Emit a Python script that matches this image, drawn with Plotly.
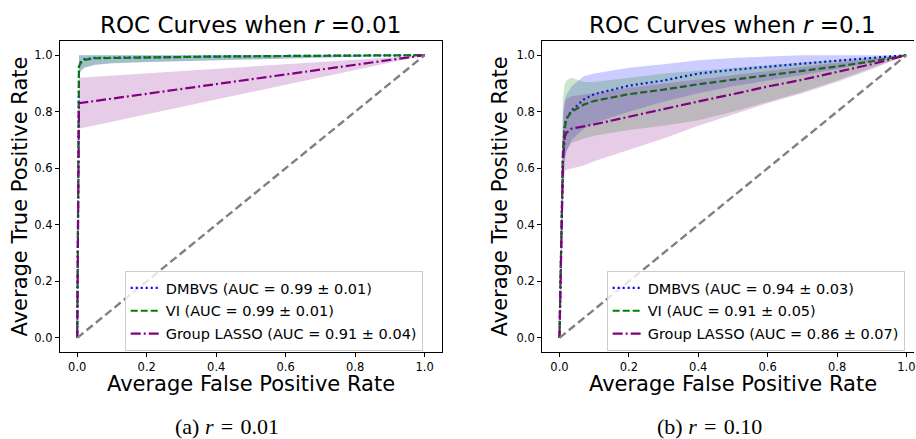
import plotly.graph_objects as go

W, H = 916, 439

# ---------------- data: panel (a) r = 0.01 ----------------
fpr_a = [0, 0.005, 0.01, 0.02, 0.05, 0.1, 0.2, 0.4, 0.6, 0.8, 1.0]
dmbvs_a = [0, 0.965, 0.975, 0.985, 0.99, 0.991, 0.993, 0.995, 0.997, 0.999, 1.0]
dmbvs_a_lo = [0, 0.935, 0.945, 0.955, 0.966, 0.972, 0.977, 0.982, 0.988, 0.994, 1.0]
dmbvs_a_hi = [0, 1.0, 1.0, 1.0, 1.0, 1.0, 1.0, 1.0, 1.0, 1.0, 1.0]
vi_a = [0, 0.96, 0.972, 0.983, 0.989, 0.99, 0.992, 0.995, 0.997, 0.999, 1.0]
vi_a_lo = [0, 0.93, 0.942, 0.955, 0.965, 0.97, 0.976, 0.982, 0.988, 0.994, 1.0]
vi_a_hi = [0, 1.0, 1.0, 1.0, 1.0, 1.0, 1.0, 1.0, 1.0, 1.0, 1.0]
fpr_lasso_a = [0, 0.005, 1.0]
lasso_a = [0, 0.83, 1.0]
lasso_a_lo = [0, 0.74, 1.0]
lasso_a_hi = [0, 0.92, 1.0]

# ---------------- data: panel (b) r = 0.1 ----------------
fpr_b = [0, 0.01, 0.015, 0.02, 0.035, 0.07, 0.1, 0.2, 0.3, 0.4, 0.5, 0.6, 0.7, 0.8, 0.9, 1.0]
dmbvs_b = [0, 0.65, 0.75, 0.775, 0.805, 0.843, 0.862, 0.892, 0.91, 0.935, 0.948, 0.96, 0.97, 0.98, 0.99, 1.0]
dmbvs_b_hi = [0, 0.80, 0.84, 0.86, 0.89, 0.925, 0.935, 0.955, 0.968, 0.982, 0.99, 0.996, 1.0, 1.0, 1.0, 1.0]
dmbvs_b_lo = [0, 0.50, 0.63, 0.66, 0.70, 0.74, 0.76, 0.80, 0.835, 0.865, 0.89, 0.91, 0.93, 0.95, 0.975, 1.0]
vi_b = [0, 0.66, 0.74, 0.775, 0.80, 0.825, 0.838, 0.862, 0.878, 0.897, 0.913, 0.928, 0.944, 0.96, 0.978, 1.0]
vi_b_hi = [0, 0.85, 0.895, 0.91, 0.92, 0.905, 0.905, 0.92, 0.935, 0.945, 0.955, 0.965, 0.975, 0.985, 0.993, 1.0]
vi_b_lo = [0, 0.50, 0.62, 0.66, 0.69, 0.705, 0.715, 0.735, 0.75, 0.77, 0.80, 0.835, 0.87, 0.91, 0.955, 1.0]
lasso_b = [0, 0.62, 0.71, 0.725, 0.74, 0.748, 0.755, 0.782, 0.81, 0.836, 0.862, 0.889, 0.913, 0.94, 0.968, 1.0]
lasso_b_hi = [0, 0.75, 0.83, 0.845, 0.855, 0.86, 0.865, 0.885, 0.90, 0.915, 0.93, 0.945, 0.96, 0.975, 0.988, 1.0]
lasso_b_lo = [0, 0.45, 0.59, 0.595, 0.60, 0.61, 0.625, 0.665, 0.705, 0.75, 0.79, 0.83, 0.865, 0.905, 0.95, 1.0]

diag = [0, 1]

labels_a = ["DMBVS (AUC = 0.99 ± 0.01)", "VI (AUC = 0.99 ± 0.01)", "Group LASSO (AUC = 0.91 ± 0.04)"]
labels_b = ["DMBVS (AUC = 0.94 ± 0.03)", "VI (AUC = 0.91 ± 0.05)", "Group LASSO (AUC = 0.86 ± 0.07)"]
titles = ["ROC Curves when <i>r</i> =0.01", "ROC Curves when <i>r</i> =0.1"]
captions = ["(a) <i>r</i>&#8196;=&#8196;0.01", "(b) <i>r</i>&#8196;=&#8196;0.10"]
tick_vals = [0.0, 0.2, 0.4, 0.6, 0.8, 1.0]

line_colors = ["blue", "green", "purple"]
fill_colors = ["rgba(0,0,255,0.2)", "rgba(0,128,0,0.2)", "rgba(128,0,128,0.2)"]
dashes = ["2px,3px", "7px,3px", "10px,3px,2px,3px"]

FONT = "DejaVu Sans"
fig = go.Figure()


def add_panel(xa, ya, legend, series, labels):
    for i, (x, m, lo, hi) in enumerate(series):
        fig.add_trace(go.Scatter(
            x=list(x) + list(x)[::-1], y=list(hi) + list(lo)[::-1],
            xaxis=xa, yaxis=ya, mode="lines", fill="toself",
            fillcolor=fill_colors[i], line=dict(width=0),
            hoverinfo="skip", showlegend=False))
        fig.add_trace(go.Scatter(
            x=x, y=m, xaxis=xa, yaxis=ya, mode="lines", name=labels[i],
            legend=legend, legendgroup=legend + str(i),
            line=dict(color=line_colors[i], width=2.2, dash=dashes[i])))
    fig.add_trace(go.Scatter(
        x=diag, y=diag, xaxis=xa, yaxis=ya, mode="lines", showlegend=False,
        line=dict(color="gray", width=2.4, dash="8px,4px")))


add_panel("x", "y", "legend",
          [(fpr_a, dmbvs_a, dmbvs_a_lo, dmbvs_a_hi),
           (fpr_a, vi_a, vi_a_lo, vi_a_hi),
           (fpr_lasso_a, lasso_a, lasso_a_lo, lasso_a_hi)], labels_a)
add_panel("x2", "y2", "legend2",
          [(fpr_b, dmbvs_b, dmbvs_b_lo, dmbvs_b_hi),
           (fpr_b, vi_b, vi_b_lo, vi_b_hi),
           (fpr_b, lasso_b, lasso_b_lo, lasso_b_hi)], labels_b)

ax_common = dict(showgrid=False, zeroline=False, showline=True, linecolor="black",
                 linewidth=1, ticks="outside", ticklen=4, tickcolor="black",
                 tickvals=tick_vals, tickformat=".1f", ticklabeloverflow="allow",
                 tickfont=dict(family=FONT, size=11.5, color="black"))

ydom = [1 - 352 / H, 1 - 41 / H]
leg_common = dict(xanchor="left", yanchor="top", bgcolor="rgba(255,255,255,0.8)",
                  bordercolor="#cccccc", borderwidth=1,
                  font=dict(family=FONT, size=14.5, color="black"), tracegroupgap=1)
fig.update_layout(
    width=W, height=H, margin=dict(l=0, r=0, t=0, b=0),
    plot_bgcolor="white", paper_bgcolor="white",
    xaxis=dict(domain=[60 / W, 443 / W], range=[-0.05, 1.05], anchor="y", mirror=True, **ax_common),
    yaxis=dict(domain=ydom, range=[-0.05, 1.05], anchor="x", mirror=True, **ax_common),
    xaxis2=dict(domain=[543.3 / W, 1.0], range=[-0.05, 1.0218], anchor="y2", mirror=True, **ax_common),
    yaxis2=dict(domain=ydom, range=[-0.05, 1.05], anchor="x2", mirror=False, **ax_common),
    legend=dict(x=125 / W, y=1 - 271 / H, **leg_common),
    legend2=dict(x=608 / W, y=1 - 271 / H, **leg_common),
)

ann = []
for cx, t in zip([251.0, 734.0], titles):
    ann.append(dict(text=t, x=cx / W, y=1 - 25 / H, xref="paper", yref="paper",
                    xanchor="center", yanchor="middle", showarrow=False,
                    font=dict(family=FONT, size=23, color="black")))
for cx in [251.5, 734.5]:
    ann.append(dict(text="Average False Positive Rate", x=cx / W, y=1 - 384 / H,
                    xref="paper", yref="paper", xanchor="center", yanchor="middle",
                    showarrow=False, font=dict(family=FONT, size=21, color="black")))
for cx in [21, 502]:
    ann.append(dict(text="Average True Positive Rate", x=cx / W, y=1 - 196.5 / H,
                    xref="paper", yref="paper", xanchor="center", yanchor="middle",
                    textangle=-90, showarrow=False,
                    font=dict(family=FONT, size=21, color="black")))
for cx, c in zip([227.7, 711.3], captions):
    ann.append(dict(text=c, x=cx / W, y=1 - 426 / H, xref="paper", yref="paper",
                    xanchor="center", yanchor="middle", showarrow=False,
                    font=dict(family="Liberation Serif", size=22, color="black")))
fig.update_layout(annotations=ann)

fig.write_html("out.html", config={"displayModeBar": False},
               post_script="document.body.style.margin='0';document.body.style.overflow='hidden';")
